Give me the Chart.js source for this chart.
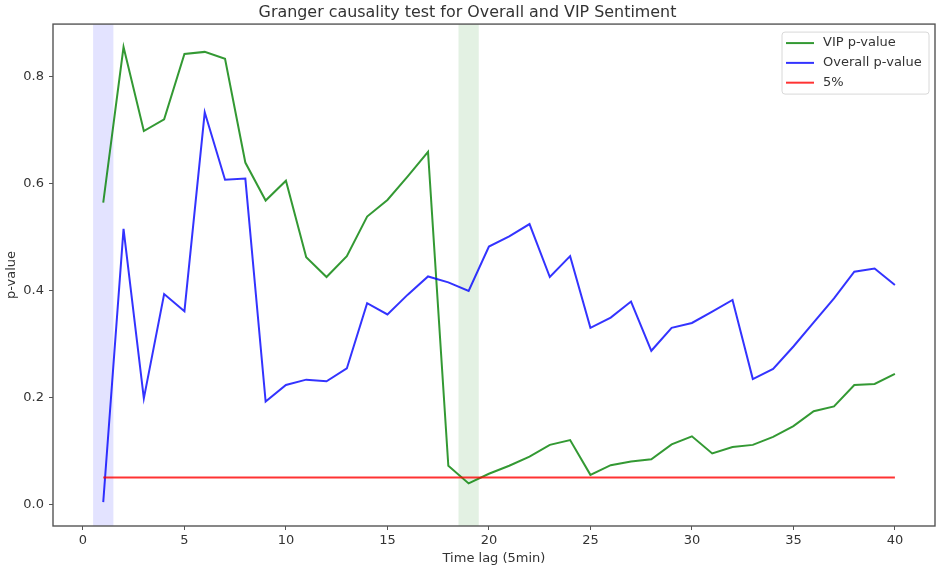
<!DOCTYPE html>
<html>
<head>
<meta charset="utf-8">
<script src="https://cdn.jsdelivr.net/npm/chart.js@4.4.1/dist/chart.umd.min.js"></script>
<style>
  body { margin: 0; background: #fff; }
  #wrap { width: 936px; height: 570px; }
</style>
</head>
<body>
<div id="wrap"><canvas id="chart" width="936" height="570"></canvas></div>
<script>
// time lags (5 min steps)
var lags = [1, 2, 3, 4, 5, 6, 7, 8, 9, 10, 11, 12, 13, 14, 15, 16, 17, 18, 19, 20,
            21, 22, 23, 24, 25, 26, 27, 28, 29, 30, 31, 32, 33, 34, 35, 36, 37, 38, 39, 40];

var vipP = [0.564, 0.855, 0.698, 0.720, 0.842, 0.846, 0.833, 0.639, 0.568, 0.605,
            0.462, 0.425, 0.464, 0.538, 0.569, 0.613, 0.659, 0.072, 0.039, 0.057,
            0.072, 0.089, 0.111, 0.120, 0.055, 0.073, 0.080, 0.084, 0.112, 0.127,
            0.095, 0.107, 0.111, 0.126, 0.146, 0.174, 0.183, 0.223, 0.225, 0.244];

var overallP = [0.004, 0.515, 0.198, 0.393, 0.361, 0.733, 0.607, 0.609, 0.192, 0.223,
                0.233, 0.230, 0.254, 0.376, 0.355, 0.392, 0.426, 0.415, 0.399, 0.482,
                0.501, 0.524, 0.425, 0.464, 0.330, 0.349, 0.379, 0.287, 0.330, 0.339,
                0.360, 0.382, 0.234, 0.253, 0.295, 0.340, 0.385, 0.435, 0.441, 0.410];

var thresholdLags = [1, 40];
var thresholdP = [0.05, 0.05];

// highlighted lag bands
var spanStarts = [0.5, 18.5];
var spanEnds = [1.5, 19.5];

var xTicks = [0, 5, 10, 15, 20, 25, 30, 35, 40];
var yTicks = [0.0, 0.2, 0.4, 0.6, 0.8];

function toPoints(xs, ys) {
    var pts = [];
    for (let i = 0; i < xs.length; i++) {
        pts.push({x: xs[i], y: ys[i]});
    }
    return pts;
}

var FONT = '"DejaVu Sans", sans-serif';
var TEXT = '#333';
var spanColors = ['rgba(0, 0, 255, 0.11)', 'rgba(0, 128, 0, 0.11)'];

var spanPlugin = {
    id: 'spans',
    beforeDatasetsDraw(chart) {
        var ctx = chart.ctx;
        var area = chart.chartArea;
        var xs = chart.scales.x;
        ctx.save();
        for (let i = 0; i < spanStarts.length; i++) {
            var x0 = xs.getPixelForValue(spanStarts[i]);
            var x1 = xs.getPixelForValue(spanEnds[i]);
            ctx.fillStyle = spanColors[i];
            ctx.fillRect(x0, area.top, x1 - x0, area.bottom - area.top);
        }
        ctx.restore();
    }
};

var framePlugin = {
    id: 'frame',
    afterDraw(chart) {
        var ctx = chart.ctx;
        var a = chart.chartArea;
        ctx.save();
        ctx.strokeStyle = '#555';
        ctx.lineWidth = 1.4;
        ctx.strokeRect(a.left, a.top, a.right - a.left, a.bottom - a.top);

        // legend box, top right inside the axes
        var sets = chart.data.datasets;
        var bx = a.right - 153, by = a.top + 8, bw = 147, bh = 62;
        ctx.fillStyle = 'rgba(255,255,255,0.8)';
        ctx.strokeStyle = '#d8d8d8';
        ctx.lineWidth = 1;
        ctx.beginPath();
        ctx.roundRect(bx, by, bw, bh, 3);
        ctx.fill();
        ctx.stroke();
        ctx.font = '13px ' + FONT;
        ctx.textBaseline = 'middle';
        for (let i = 0; i < sets.length; i++) {
            var ry = by + 11 + i * 19.8;
            ctx.strokeStyle = sets[i].borderColor;
            ctx.lineWidth = 2;
            ctx.beginPath();
            ctx.moveTo(bx + 4, ry);
            ctx.lineTo(bx + 32, ry);
            ctx.stroke();
            ctx.fillStyle = TEXT;
            ctx.fillText(sets[i].label, bx + 41, ry);
        }
        ctx.restore();
    }
};

var chart = new Chart(document.getElementById('chart').getContext('2d'), {
    type: 'line',
    data: {
        datasets: [
            {
                label: 'VIP p-value',
                data: toPoints(lags, vipP),
                borderColor: 'rgba(0, 128, 0, 0.8)',
                borderWidth: 2,
                pointRadius: 0,
                tension: 0,
                order: 3,
            },
            {
                label: 'Overall p-value',
                data: toPoints(lags, overallP),
                borderColor: 'rgba(0, 0, 255, 0.8)',
                borderWidth: 2,
                pointRadius: 0,
                tension: 0,
                order: 2,
            },
            {
                label: '5%',
                data: toPoints(thresholdLags, thresholdP),
                borderColor: 'rgba(255, 0, 0, 0.8)',
                borderWidth: 2,
                pointRadius: 0,
                tension: 0,
                order: 1,
            },
        ],
    },
    options: {
        responsive: false,
        animation: false,
        layout: { padding: { left: 0, right: 1, top: 0, bottom: 0 } },
        plugins: {
            legend: { display: false },
            tooltip: { enabled: false },
            title: {
                display: true,
                text: 'Granger causality test for Overall and VIP Sentiment',
                color: TEXT,
                font: { family: FONT, size: 15.9, weight: 'normal' },
                padding: { top: 3, bottom: 2 },
            },
        },
        scales: {
            x: {
                type: 'linear',
                min: -1.475,
                max: 41.975,
                afterBuildTicks: function (scale) {
                    scale.ticks = xTicks.map(v => ({value: v}));
                },
                afterFit: function (scale) { scale.height = 44; },
                grid: { display: true, drawOnChartArea: false, drawTicks: true, tickLength: 4, color: '#555' },
                border: { display: false },
                ticks: {
                    color: TEXT,
                    font: { family: FONT, size: 13 },
                    padding: 3,
                    maxRotation: 0,
                },
                title: {
                    display: true,
                    text: 'Time lag (5min)',
                    color: TEXT,
                    font: { family: FONT, size: 13 },
                    padding: { top: 0, bottom: 4 },
                },
            },
            y: {
                type: 'linear',
                min: -0.0407,
                max: 0.898,
                afterBuildTicks: function (scale) {
                    scale.ticks = yTicks.map(v => ({value: v}));
                },
                afterFit: function (scale) { scale.width = 53; },
                grid: { display: true, drawOnChartArea: false, drawTicks: true, tickLength: 4, color: '#555' },
                border: { display: false },
                ticks: {
                    color: TEXT,
                    font: { family: FONT, size: 13 },
                    padding: 5,
                    callback: function (v) { return Number(v).toFixed(1); },
                },
                title: {
                    display: true,
                    text: 'p-value',
                    color: TEXT,
                    font: { family: FONT, size: 13 },
                    padding: { top: 4, bottom: 0 },
                },
            },
        },
    },
    plugins: [spanPlugin, framePlugin],
});
</script>
</body>
</html>
